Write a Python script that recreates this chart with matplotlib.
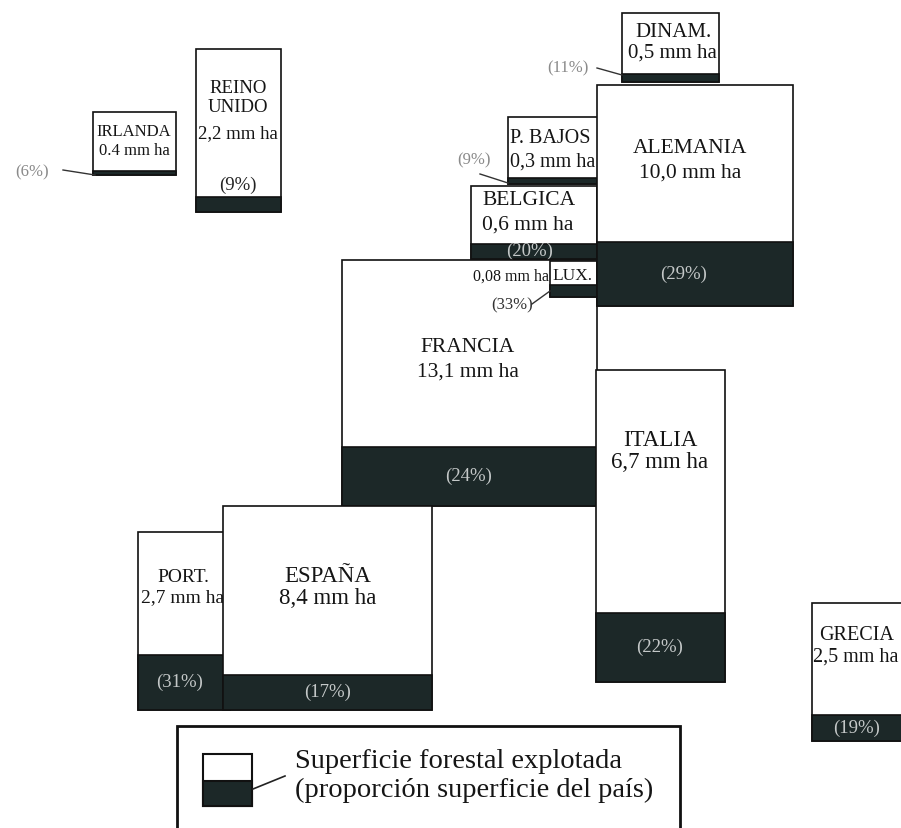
import matplotlib.pyplot as plt
from matplotlib.patches import Rectangle

# data: forest area (million ha) and share of the country's surface
countries = ["IRLANDA", "REINO\nUNIDO", "DINAM.", "P. BAJOS", "BELGICA", "FRANCIA",
             "LUX.", "ALEMANIA", "ITALIA", "PORT.", "ESPAÑA", "GRECIA"]
forest_mmha = [0.4, 2.2, 0.5, 0.3, 0.6, 13.1, 0.08, 10.0, 6.7, 2.7, 8.4, 2.5]
pct = [6, 9, 11, 9, 20, 24, 33, 29, 22, 31, 17, 19]

# layout in image pixels: box (x0, y0, x1, y1)
boxes = {
    "IRLANDA": (93, 113, 176, 176),
    "REINO\nUNIDO": (196, 50, 281, 213),
    "DINAM.": (622, 14, 719, 83),
    "P. BAJOS": (508, 118, 600, 185),
    "BELGICA": (471, 187, 597, 260),
    "FRANCIA": (342, 261, 597, 507),
    "LUX.": (550, 262, 597, 298),
    "ALEMANIA": (597, 86, 793, 307),
    "ITALIA": (596, 371, 725, 683),
    "PORT.": (138, 533, 230, 711),
    "ESPAÑA": (223, 507, 432, 711),
    "GRECIA": (812, 604, 906, 742),
}
# name pos, value pos, ha, fontsize
labels = {
    "IRLANDA": ((134, 132), (134, 151), "center", 12),
    "REINO\nUNIDO": ((238, 98), (238, 134), "center", 13.5),
    "DINAM.": ((673, 32), (672, 53), "center", 15),
    "P. BAJOS": ((510, 138), (510, 162), "left", 14.5),
    "BELGICA": ((482, 200), (482, 225), "left", 15.5),
    "FRANCIA": ((468, 347), (468, 372), "center", 15.5),
    "LUX.": ((552, 276), None, "left", 12.5),
    "ALEMANIA": ((690, 148), (690, 173), "center", 15.5),
    "ITALIA": ((660, 440), (660, 462), "center", 16.5),
    "PORT.": ((183, 578), (183, 598), "center", 14),
    "ESPAÑA": ((328, 577), (328, 598), "center", 16.5),
    "GRECIA": ((857, 635), (856, 657), "center", 14.5),
}
# percent label x (and y when outside the band), style, leader line
pct_pos = {
    "IRLANDA": ((32, 172), "out", ((63, 171), (95, 176))),
    "REINO\nUNIDO": ((238, 185), "white", None),
    "DINAM.": ((568, 68), "out", ((597, 69), (622, 76))),
    "P. BAJOS": ((474, 160), "out", ((480, 175), (508, 184))),
    "BELGICA": ((530, None), "in", None),
    "FRANCIA": ((469, None), "in", None),
    "LUX.": ((512, 305), "outdark", ((532, 305), (550, 292))),
    "ALEMANIA": ((684, None), "in", None),
    "ITALIA": ((660, None), "in", None),
    "PORT.": ((180, None), "in", None),
    "ESPAÑA": ((328, None), "in", None),
    "GRECIA": ((857, None), "in", None),
}

dark = "#1c2828"
plt.rcParams['font.family'] = ['Liberation Serif', 'DejaVu Serif']

fig = plt.figure(figsize=(9.01, 8.29), dpi=100)
ax = fig.add_axes([0, 0, 1, 1])
ax.set_xlim(0, 901)
ax.set_ylim(829, 0)
ax.axis('off')


def fmt(name, v):
    s = f"{v:.2f}" if v < 0.1 else f"{v:.1f}"
    if name != "IRLANDA":
        s = s.replace('.', ',')
    return s + " mm ha"


for i, (name, v, p) in enumerate(zip(countries, forest_mmha, pct)):
    z = 2 + i
    x0, y0, x1, y1 = boxes[name]
    w, h = x1 - x0, y1 - y0
    rect = Rectangle((x0, y0), w, h, facecolor='white', edgecolor='#111111', lw=1.2, zorder=z)
    ax.add_patch(rect)
    band = h * p / 100
    ax.add_patch(Rectangle((x0, y1 - band), w, band, facecolor=dark, edgecolor='#111111',
                           lw=1.2, zorder=z + 0.1))

    (nx, ny), vpos, ha, fs = labels[name]
    t = ax.text(nx, ny, name, ha=ha, va='center', fontsize=fs, color='#151515',
                linespacing=1.1, zorder=z + 0.2)
    t.set_clip_path(rect)
    if vpos is not None:
        t = ax.text(vpos[0], vpos[1], fmt(name, v), ha=ha, va='center', fontsize=fs,
                    color='#151515', zorder=z + 0.2)
        t.set_clip_path(rect)
    else:
        # LUX: value written to the left of the box
        ax.text(x0 - 1, ny + 1, fmt(name, v), ha='right', va='center', fontsize=11.5,
                color='#151515', zorder=z - 0.5)

    (px, py), style, leader = pct_pos[name]
    if py is None:
        py = y1 - band / 2 - 1
    col = {"in": "#c4c8c8", "white": "#222222", "out": "#8a8a8a", "outdark": "#333333"}[style]
    pfs = 12 if style.startswith("out") else 13.5
    ax.text(px, py, f"({p}%)", ha='center', va='center', fontsize=pfs, color=col, zorder=z + 0.3)
    if leader is not None:
        (lx0, ly0), (lx1, ly1) = leader
        ax.plot([lx0, lx1], [ly0, ly1], color='#333333', lw=1.0, zorder=z + 0.3)

# legend
ax.add_patch(Rectangle((177, 727), 503, 120, facecolor='white', edgecolor='#111111',
                       lw=2, zorder=30))
ax.add_patch(Rectangle((203, 755), 49, 52, facecolor='white', edgecolor='#111111',
                       lw=1.5, zorder=31))
ax.add_patch(Rectangle((203, 782), 49, 25, facecolor=dark, edgecolor='#111111',
                       lw=1.5, zorder=31))
ax.plot([253, 285], [790, 777], color='#222222', lw=1.2, zorder=31)
ax.text(295, 762, "Superficie forestal explotada", ha='left', va='center',
        fontsize=20.5, color='#151515', zorder=31)
ax.text(295, 790, "(proporción superficie del país)", ha='left', va='center',
        fontsize=20.5, color='#151515', zorder=31)

fig.savefig('out.png', dpi=100)
